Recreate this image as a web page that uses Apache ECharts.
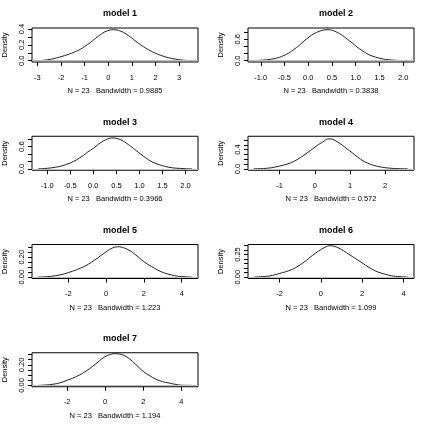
<!DOCTYPE html>
<html>
<head>
<meta charset="utf-8">
<script src="https://cdn.jsdelivr.net/npm/echarts@6/dist/echarts.min.js"></script>
<style>
  html, body { margin: 0; padding: 0; background: #fff; }
  #chart { width: 432px; height: 433px; }
</style>
</head>
<body>
<div id="chart"></div>
<script>
// density curves, [x, density]
var dens1 = [[-2.97,0.001],[-2.79,0.004],[-2.39,0.021],[-2.0,0.051],[-1.69,0.08],[-1.4,0.114],[-1.19,0.143],[-1.01,0.177],[-0.77,0.227],[-0.56,0.278],[-0.34,0.328],[-0.14,0.366],[0.07,0.387],[0.22,0.392],[0.43,0.383],[0.64,0.358],[0.86,0.316],[1.07,0.269],[1.28,0.219],[1.49,0.177],[1.7,0.139],[2.01,0.093],[2.27,0.063],[2.55,0.038],[2.83,0.021],[3.12,0.008],[3.33,0.004],[3.56,0.001]];
var dens2 = [[-1.14,0.002],[-1.105,0.005],[-1.0,0.014],[-0.86,0.028],[-0.72,0.056],[-0.61,0.093],[-0.51,0.149],[-0.4,0.223],[-0.3,0.316],[-0.19,0.428],[-0.09,0.549],[0.016,0.66],[0.12,0.753],[0.23,0.819],[0.33,0.856],[0.42,0.865],[0.51,0.847],[0.61,0.791],[0.72,0.707],[0.82,0.605],[0.93,0.493],[1.03,0.381],[1.14,0.279],[1.24,0.195],[1.35,0.13],[1.49,0.074],[1.63,0.037],[1.77,0.019],[1.94,0.005],[2.1,0.001]];
var dens3 = [[-1.2,0.003],[-1.0,0.018],[-0.83,0.045],[-0.69,0.081],[-0.5,0.162],[-0.37,0.243],[-0.22,0.36],[-0.12,0.458],[0.005,0.557],[0.11,0.665],[0.22,0.755],[0.31,0.809],[0.4,0.836],[0.49,0.827],[0.6,0.782],[0.71,0.701],[0.82,0.602],[0.92,0.503],[1.03,0.396],[1.14,0.297],[1.25,0.207],[1.38,0.135],[1.5,0.09],[1.64,0.045],[1.79,0.022],[2.0,0.009],[2.14,0.004]];
var dens4 = [[-1.74,0.003],[-1.46,0.01],[-1.22,0.027],[-1.0,0.061],[-0.79,0.101],[-0.6,0.155],[-0.41,0.236],[-0.22,0.331],[-0.03,0.432],[0.11,0.507],[0.26,0.574],[0.37,0.622],[0.5,0.615],[0.64,0.561],[0.78,0.493],[0.92,0.412],[1.07,0.331],[1.21,0.25],[1.4,0.155],[1.59,0.095],[1.78,0.054],[2.0,0.027],[2.26,0.01],[2.64,0.003]];
var dens5 = [[-3.6,0.001],[-3.32,0.003],[-2.88,0.01],[-2.44,0.023],[-2.0,0.046],[-1.56,0.075],[-1.12,0.111],[-0.77,0.15],[-0.42,0.196],[-0.07,0.245],[0.19,0.278],[0.46,0.301],[0.72,0.304],[0.98,0.291],[1.33,0.258],[1.68,0.205],[2.0,0.155],[2.39,0.108],[2.74,0.07],[3.09,0.042],[3.44,0.023],[3.79,0.01],[4.53,0.001]];
var dens6 = [[-3.23,0.002],[-2.68,0.009],[-2.35,0.02],[-2.0,0.042],[-1.71,0.06],[-1.39,0.086],[-1.06,0.127],[-0.74,0.179],[-0.42,0.238],[-0.1,0.29],[0.15,0.324],[0.39,0.346],[0.63,0.342],[0.87,0.32],[1.11,0.29],[1.35,0.253],[1.68,0.205],[2.0,0.157],[2.32,0.109],[2.65,0.068],[2.97,0.042],[3.29,0.023],[3.53,0.012],[4.21,0.001]];
var dens7 = [[-3.53,0.001],[-3.27,0.003],[-2.92,0.008],[-2.58,0.017],[-2.23,0.034],[-2.0,0.051],[-1.7,0.071],[-1.35,0.102],[-1.01,0.139],[-0.66,0.186],[-0.31,0.237],[-0.05,0.275],[0.22,0.298],[0.48,0.308],[0.74,0.305],[1.0,0.291],[1.26,0.261],[1.61,0.203],[2.0,0.136],[2.31,0.098],[2.66,0.061],[3.01,0.037],[3.36,0.024],[3.71,0.01],[3.97,0.003],[4.56,0.001]];

var titles = ['model 1','model 2','model 3','model 4','model 5','model 6','model 7'];
var subs = [
  'N = 23   Bandwidth = 0.9885',
  'N = 23   Bandwidth = 0.3838',
  'N = 23   Bandwidth = 0.3966',
  'N = 23   Bandwidth = 0.572',
  'N = 23   Bandwidth = 1.223',
  'N = 23   Bandwidth = 1.099',
  'N = 23   Bandwidth = 1.194'
];

// axis ranges (R pads 4% on each side)
var xMin = [-3.23, -1.27, -1.33, -1.9, -3.92, -3.53, -3.85];
var xMax = [3.8, 2.23, 2.27, 2.82, 4.86, 4.51, 4.88];
var yMin = [-0.0159, -0.035, -0.034, -0.026, -0.0126, -0.0138, -0.0122];
var yMax = [0.4129, 0.912, 0.88, 0.676, 0.327, 0.36, 0.317];

// tick positions and labelled ticks
var xTicks = [
  [-3,-2,-1,0,1,2,3],
  [-1,-0.5,0,0.5,1,1.5,2],
  [-1,-0.5,0,0.5,1,1.5,2],
  [-1,0,1,2],
  [-2,0,2,4],
  [-2,0,2,4],
  [-2,0,2,4]
];
var xDigits = [0, 1, 1, 0, 0, 0, 0];
var yTicks = [
  [0,0.1,0.2,0.3,0.4],
  [0,0.2,0.4,0.6,0.8],
  [0,0.2,0.4,0.6,0.8],
  [0,0.1,0.2,0.3,0.4,0.5,0.6],
  [0,0.05,0.1,0.15,0.2,0.25,0.3],
  [0,0.05,0.1,0.15,0.2,0.25,0.3,0.35],
  [0,0.05,0.1,0.15,0.2,0.25,0.3]
];
var yLabels = [
  [0,0.2,0.4],
  [0,0.6],
  [0,0.6],
  [0,0.4],
  [0,0.2],
  [0,0.25],
  [0,0.2]
];
var yDigits = [1, 1, 1, 1, 2, 2, 2];

var allDens = [dens1, dens2, dens3, dens4, dens5, dens6, dens7];

var FONT = 'Liberation Sans';
var grid = [], xAxis = [], yAxis = [], series = [], title = [];

function fmt(dg) {
  return function (v) { return v.toFixed(dg); };
}

allDens.forEach(function (d, i) {
  var col = i % 2, row = Math.floor(i / 2);
  var left = 32 + col * 216;
  var top = 28 + row * 108.25;
  grid.push({ left: left, top: top, width: 166, height: 34, show: true,
    borderColor: '#000', borderWidth: 1, backgroundColor: 'transparent' });
  title.push({ text: titles[i], left: left + 83, top: top - 23.5, textAlign: 'center',
    textStyle: { fontFamily: FONT, fontSize: 9, fontWeight: 'bold', color: '#000' } });
  xAxis.push({
    type: 'value', gridIndex: i, min: xMin[i], max: xMax[i],
    name: subs[i], nameLocation: 'middle', nameGap: 25,
    nameTextStyle: { fontFamily: FONT, fontSize: 7.5, color: '#000' },
    axisLine: { show: false, onZero: false },
    splitLine: { show: false },
    axisTick: { show: true, inside: false, length: 4, customValues: xTicks[i],
      lineStyle: { color: '#000', width: 1 } },
    axisLabel: { show: true, margin: 11.5, customValues: xTicks[i],
      fontFamily: FONT, fontSize: 7.5, color: '#000', formatter: fmt(xDigits[i]) }
  });
  yAxis.push({
    type: 'value', gridIndex: i, min: yMin[i], max: yMax[i],
    name: 'Density', nameLocation: 'middle', nameGap: 23, nameRotate: 90,
    nameTextStyle: { fontFamily: FONT, fontSize: 7.5, color: '#000' },
    axisLine: { show: false, onZero: false },
    splitLine: { show: false },
    axisTick: { show: true, inside: false, length: 4, customValues: yTicks[i],
      lineStyle: { color: '#000', width: 1 } },
    axisLabel: { show: true, margin: 6, rotate: 90, customValues: yLabels[i],
      fontFamily: FONT, fontSize: 7.5, color: '#000', formatter: fmt(yDigits[i]) }
  });
  series.push({
    type: 'line', xAxisIndex: i, yAxisIndex: i, data: d,
    smooth: 0.3, showSymbol: false, silent: true,
    lineStyle: { color: '#222', width: 1 },
    markLine: { silent: true, symbol: ['none', 'none'], label: { show: false },
      lineStyle: { color: '#bebebe', width: 1, type: 'solid' },
      data: [{ yAxis: 0 }] },
    z: 3
  });
});

var chart = echarts.init(document.getElementById('chart'), null, { renderer: 'canvas' });
chart.setOption({
  backgroundColor: '#fff',
  animation: false,
  title: title,
  grid: grid,
  xAxis: xAxis,
  yAxis: yAxis,
  series: series
});
</script>
</body>
</html>
